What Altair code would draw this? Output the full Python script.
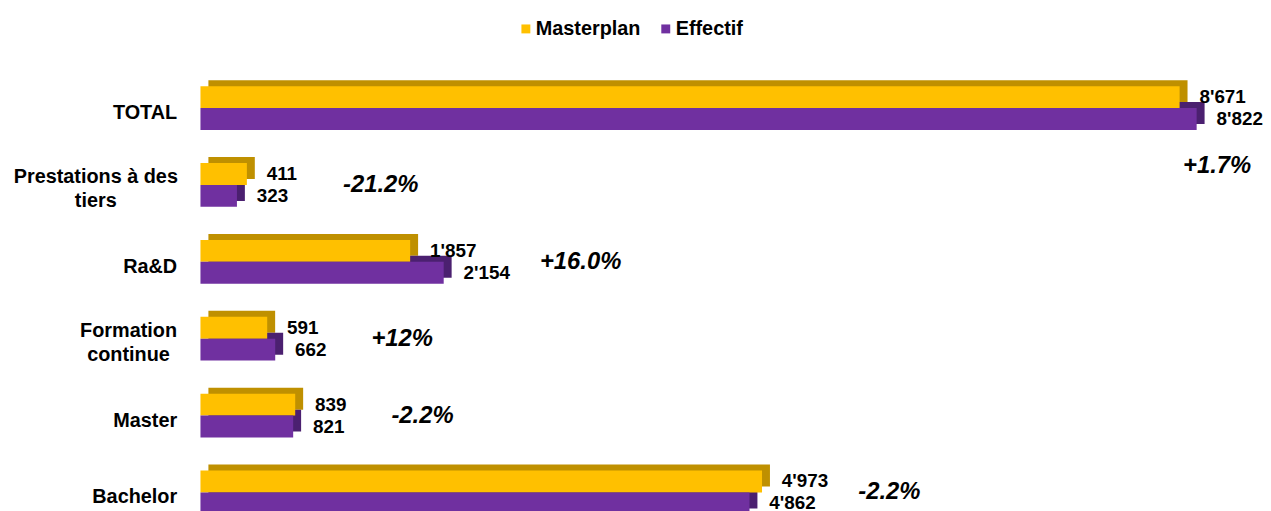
import altair as alt
import pandas as pd

categories = ["TOTAL", "Prestations à des tiers", "Ra&D", "Formation continue", "Master", "Bachelor"]
masterplan = [8671, 411, 1857, 591, 839, 4973]
effectif = [8822, 323, 2154, 662, 821, 4862]
variation = ["+1.7%", "-21.2%", "+16.0%", "+12%", "-2.2%", "-2.2%"]
series = ["Masterplan", "Effectif"]

FONT = "Liberation Sans"
YELLOW, PURPLE = "#FFC000", "#7030A0"
YELLOW_DARK, PURPLE_DARK = "#BF9000", "#4B2070"

PLOT_H = 465
N = len(categories)
PAD_IN, PAD_OUT = 0.43, 0.215
BAND = PLOT_H / N * (1 - PAD_IN)
DEPTH_X, DEPTH_Y = 8, 6


def fmt(v):
    return f"{v:,}".replace(",", "'")


rows = []
for c, m, e in zip(categories, masterplan, effectif):
    rows.append({"cat": c, "series": series[0], "value": m, "label": fmt(m)})
    rows.append({"cat": c, "series": series[1], "value": e, "label": fmt(e)})
df = pd.DataFrame(rows)

pct_df = pd.DataFrame({
    "cat": categories,
    "pct": variation,
    "top": [max(m, e) for m, e in zip(masterplan, effectif)],
    "eff": effectif,
})

MULTI = "datum.value == 'Prestations à des tiers' || datum.value == 'Formation continue'"
xscale = alt.Scale(domain=[0, 8900], nice=False)
x_enc = alt.X("value:Q", scale=xscale, axis=None)
y_enc = alt.Y(
    "cat:N",
    sort=categories,
    scale=alt.Scale(paddingInner=PAD_IN, paddingOuter=PAD_OUT),
    axis=alt.Axis(
        title=None, domain=False, ticks=False, grid=False,
        labelFont=FONT, labelFontSize=20, labelFontWeight="bold", labelColor="black",
        labelLineHeight=24, labelLimit=400,
        labelOffset={"condition": {"test": MULTI, "value": -8}, "value": 5},
        labelAlign={"condition": {"test": MULTI, "value": "center"}, "value": "right"},
        labelPadding={"condition": [
            {"test": "datum.value == 'Prestations à des tiers'", "value": 106},
            {"test": "datum.value == 'Formation continue'", "value": 73},
        ], "value": 24},
        labelExpr="datum.value == 'Prestations à des tiers' ? ['Prestations à des', 'tiers'] : datum.value == 'Formation continue' ? ['Formation', 'continue'] : datum.value",
    ),
)
yoff = alt.YOffset("series:N", sort=series, scale=alt.Scale(domain=series))
yoff_shadow = alt.YOffset("series:N", sort=series,
                          scale=alt.Scale(domain=series, range=[-DEPTH_Y, BAND - DEPTH_Y]))

base = alt.Chart(df)

shadow = base.mark_bar(xOffset=DEPTH_X, x2Offset=DEPTH_X).encode(
    x=x_enc, y=y_enc, yOffset=yoff_shadow,
    color=alt.condition(alt.datum.series == "Masterplan", alt.value(YELLOW_DARK), alt.value(PURPLE_DARK)),
)

front = base.mark_bar().encode(
    x=x_enc, y=y_enc, yOffset=yoff,
    color=alt.Color(
        "series:N", sort=series,
        scale=alt.Scale(domain=series, range=[YELLOW, PURPLE]),
        legend=alt.Legend(
            title=None, orient="none", legendX=318, legendY=-51, direction="horizontal",
            symbolType="square", symbolSize=81, symbolStrokeWidth=0, padding=0,
            labelFont=FONT, labelFontSize=20, labelFontWeight="bold", labelColor="black",
            labelOffset=0, columnPadding=15,
        ),
    ),
)

values = base.mark_text(
    align="left", baseline="middle", dx=20, font=FONT, fontSize=19, fontWeight="bold", color="black"
).encode(x=x_enc, y=y_enc, yOffset=yoff, text="label:N")

pct = alt.Chart(pct_df).transform_filter(alt.datum.cat != "TOTAL").mark_text(
    align="left", baseline="middle", dx=97, font=FONT, fontSize=24, fontWeight="bold",
    fontStyle="italic", color="black",
).encode(x=alt.X("top:Q", scale=xscale, axis=None), y=y_enc, text="pct:N")

pct_total = alt.Chart(pct_df).transform_filter(alt.datum.cat == "TOTAL").mark_text(
    align="right", baseline="middle", dx=55, dy=58, font=FONT, fontSize=24, fontWeight="bold",
    fontStyle="italic", color="black",
).encode(x=alt.X("eff:Q", scale=xscale, axis=None), y=y_enc, text="pct:N")

chart = alt.layer(shadow, front, values, pct, pct_total).resolve_scale(
    yOffset="independent"
).properties(
    width=1013, height=PLOT_H,
    padding={"left": 5, "top": 9, "right": 0, "bottom": 0},
    background="white",
).configure_view(stroke=None)

chart.save("out.html", embed_options={"renderer": "svg", "actions": False})
